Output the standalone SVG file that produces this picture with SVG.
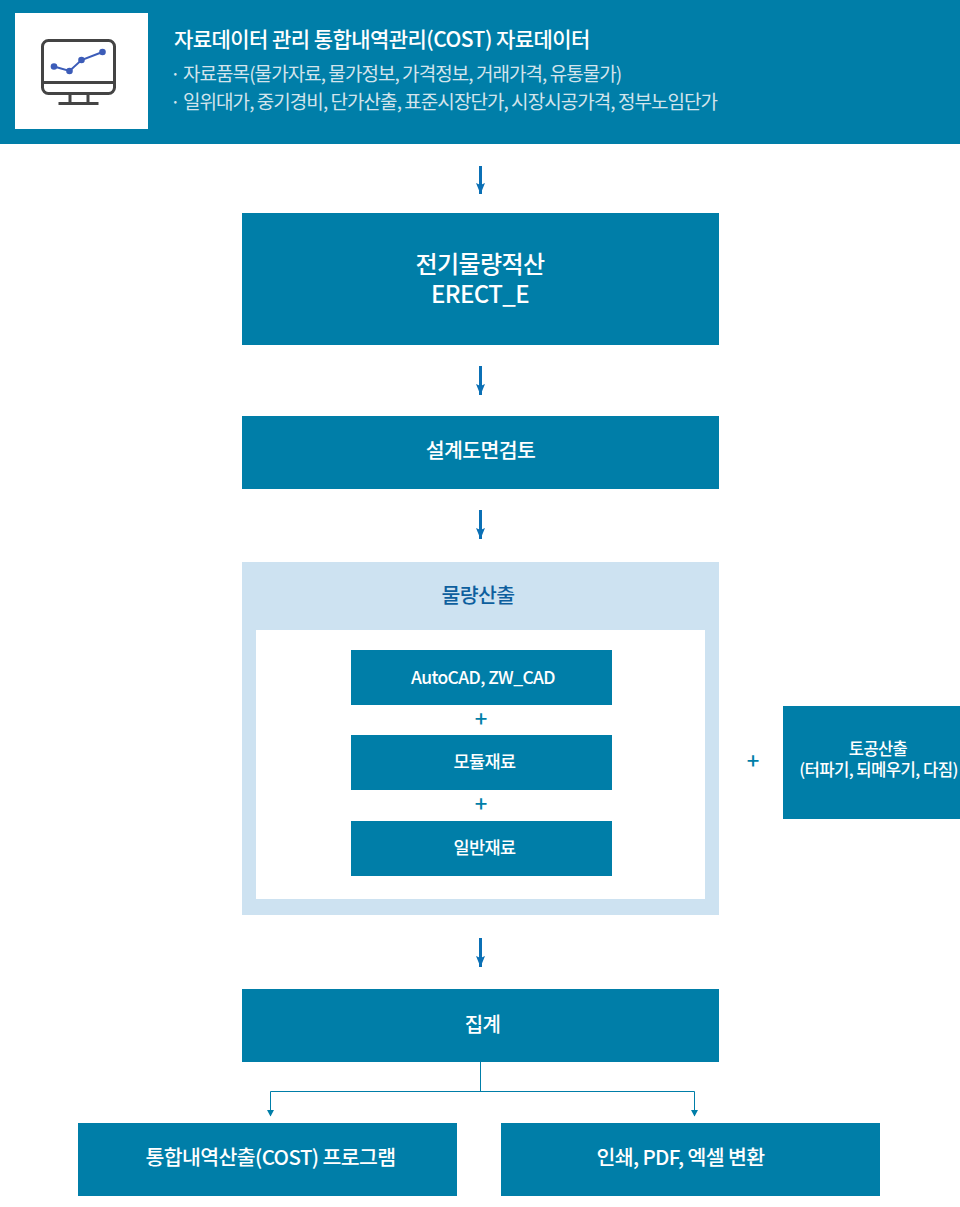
<svg xmlns="http://www.w3.org/2000/svg" width="960" height="1207" viewBox="0 0 960 1207">
<defs>
<marker id="big" markerUnits="userSpaceOnUse" markerWidth="10" markerHeight="12" refX="5" refY="11" viewBox="0 0 10 12"><path d="M0.500 0L5 2L9.500 0L5 11Z" fill="#0b70b5"/></marker>
<marker id="small" markerUnits="userSpaceOnUse" markerWidth="8" markerHeight="8" refX="4" refY="7" viewBox="0 0 8 8"><path d="M0.500 1H7.500L4 7.500Z" fill="#007ea8"/></marker>
</defs>
<style>
.box{fill:#007ea8}
text{font-family:"Noto Sans CJK KR","Noto Sans",sans-serif;fill:#fff;text-anchor:middle}
.t{font-weight:500;letter-spacing:-.6px}
.sub{text-anchor:start;letter-spacing:-.95px;fill:#d3e4ec;font-size:19px}
.bar{stroke:#0b70b5;stroke-width:3;fill:none;marker-end:url(#big)}
.plus{fill:#007ea8;font-weight:500;font-size:22px}
</style>
<rect width="960" height="1207" fill="#fff"/>
<g id="header">
<rect class="box" width="960" height="144"/>
<rect x="15" y="13" width="133" height="116" fill="#fff"/>
<g fill="none" stroke="#444" stroke-width="3">
<rect x="42.500" y="40.500" width="72" height="53" rx="6"/>
<path d="M43 82.500H114M70 94V103M88 94V103"/>
<path d="M58.500 103.500H98.500"/>
</g>
<path d="M54 66.500L69.500 71L81.500 60L102.500 52" fill="none" stroke="#3c5cb8" stroke-width="2"/>
<g fill="#3c5cb8"><circle cx="54" cy="66.500" r="3.300"/><circle cx="69.500" cy="71" r="3.300"/><circle cx="81.500" cy="60" r="3.300"/><circle cx="102.500" cy="52" r="3.300"/></g>
<text x="174" y="47" font-size="21" style="text-anchor:start;letter-spacing:-.55px" class="t">자료데이터 관리 통합내역관리(COST) 자료데이터</text>
<text class="sub" x="170" y="81">· 자료품목(물가자료, 물가정보, 가격정보, 거래가격, 유통물가)</text>
<text class="sub" x="170" y="109">· 일위대가, 중기경비, 단가산출, 표준시장단가, 시장시공가격, 정부노임단가</text>
</g>
<g id="connectors">
<path class="bar" d="M480.500 166V194"/>
<path class="bar" d="M480.500 366V395"/>
<path class="bar" d="M480.500 510V539"/>
<path class="bar" d="M480.500 938V967"/>
<path d="M480.500 1062V1091.500M270.500 1116V1091.500H694.500V1116" fill="none" stroke="#007ea8" stroke-width="1"/>
<path d="M270.500 1108V1116" fill="none" stroke="#007ea8" marker-end="url(#small)"/>
<path d="M694.500 1108V1116" fill="none" stroke="#007ea8" marker-end="url(#small)"/>
</g>
<g id="erect"><rect class="box" x="242" y="213" width="477" height="132"/>
<text class="t" x="480" y="273" font-size="24">전기물량적산</text><text class="t" x="480" y="303" font-size="24">ERECT_E</text></g>
<g id="review"><rect class="box" x="242" y="416" width="477" height="73"/>
<text class="t" x="480.500" y="458" font-size="20.500">설계도면검토</text></g>
<g id="quantity"><rect x="242" y="562" width="477" height="353" fill="#cde2f1"/>
<rect x="256" y="630" width="449" height="269" fill="#fff"/>
<text class="t" x="478" y="603" font-size="20.500" style="fill:#0d5f9e">물량산출</text></g>
<g id="cad"><rect class="box" x="351" y="650" width="261" height="55"/>
<text class="t" x="483" y="684" font-size="17.500">AutoCAD, ZW_CAD</text></g>
<text class="plus" x="481" y="727">+</text>
<g id="module"><rect class="box" x="351" y="735" width="261" height="55"/>
<text class="t" x="484.500" y="768" font-size="17.500">모듈재료</text></g>
<text class="plus" x="481" y="812">+</text>
<g id="general"><rect class="box" x="351" y="821" width="261" height="55"/>
<text class="t" x="484.500" y="854" font-size="17.500">일반재료</text></g>
<text class="plus" x="753" y="769">+</text>
<g id="earth"><rect class="box" x="783" y="706" width="177" height="113"/>
<text class="t" x="878" y="755" font-size="16.500">토공산출</text><text class="t" x="878.500" y="776" font-size="16.700">(터파기, 되메우기, 다짐)</text></g>
<g id="total"><rect class="box" x="242" y="989" width="477" height="73"/>
<text class="t" x="482.500" y="1032" font-size="20">집계</text></g>
<g id="cost"><rect class="box" x="78" y="1123" width="379" height="73"/>
<text class="t" x="270.500" y="1165" font-size="20.500">통합내역산출(COST) 프로그램</text></g>
<g id="print"><rect class="box" x="501" y="1123" width="379" height="73"/>
<text class="t" x="680.500" y="1165" font-size="20.500">인쇄, PDF, 엑셀 변환</text></g>
</svg>
